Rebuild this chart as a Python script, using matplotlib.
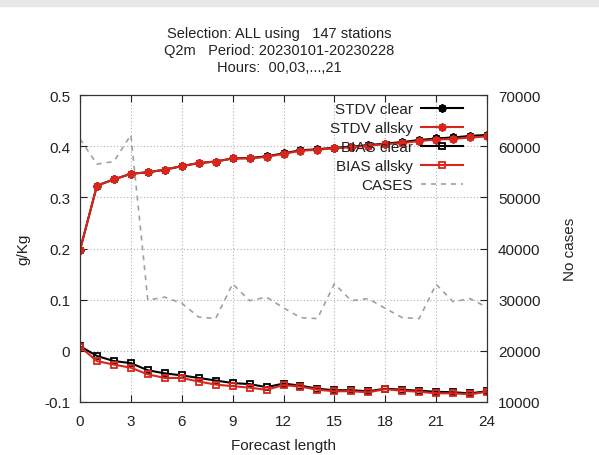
import matplotlib
matplotlib.use("Agg")
import matplotlib.pyplot as plt
from matplotlib.patches import Rectangle

plt.rcParams['font.family'] = ['Liberation Sans', 'DejaVu Sans']

hours = list(range(25))

stdv_clear = [0.197, 0.323, 0.335, 0.346, 0.349, 0.354, 0.361, 0.367, 0.370,
              0.376, 0.377, 0.380, 0.386, 0.392, 0.394, 0.397, 0.399, 0.402,
              0.405, 0.408, 0.412, 0.415, 0.417, 0.420, 0.422]
stdv_allsky = [0.197, 0.323, 0.335, 0.346, 0.349, 0.354, 0.361, 0.367, 0.370,
               0.376, 0.376, 0.379, 0.385, 0.391, 0.393, 0.396, 0.398, 0.401,
               0.404, 0.406, 0.410, 0.413, 0.414, 0.417, 0.419]
bias_clear = [0.009, -0.010, -0.020, -0.024, -0.038, -0.044, -0.048, -0.053,
              -0.058, -0.063, -0.065, -0.071, -0.064, -0.068, -0.074, -0.077,
              -0.077, -0.079, -0.074, -0.076, -0.078, -0.080, -0.081, -0.083,
              -0.079]
bias_allsky = [0.008, -0.020, -0.027, -0.033, -0.046, -0.053, -0.053, -0.060,
               -0.066, -0.069, -0.072, -0.076, -0.067, -0.070, -0.076, -0.079,
               -0.079, -0.081, -0.075, -0.078, -0.080, -0.083, -0.083, -0.085,
               -0.080]
cases = [61400, 56500, 57000, 62200, 29900, 30500, 29300, 26600, 26300, 33100,
         29800, 30500, 28400, 26500, 26300, 33100, 29800, 30200, 28300, 26500,
         26300, 33000, 29600, 30200, 28500]

xticks = list(range(0, 25, 3))
yticks = [-0.1, 0, 0.1, 0.2, 0.3, 0.4, 0.5]
yticklabels = ['-0.1', '0', '0.1', '0.2', '0.3', '0.4', '0.5']
y2ticks = [10000, 20000, 30000, 40000, 50000, 60000, 70000]

red = '#d9261c'
star = (8, 2, 0)

fig = plt.figure(figsize=(5.99, 4.56), dpi=100)
fig.patches.append(Rectangle((0, 1 - 7 / 456), 1, 7 / 456, transform=fig.transFigure,
                             color='#e8e8e8', zorder=0))
ax = fig.add_axes([80 / 599, 53 / 456, 407 / 599, 307 / 456])
ax2 = ax.twinx()

l1, = ax.plot(hours, stdv_clear, color='black', lw=1.5, marker=star, ms=6, mew=1.4)
l2, = ax.plot(hours, stdv_allsky, color=red, lw=1.5, marker=star, ms=6, mew=1.4)
l3, = ax.plot(hours, bias_clear, color='black', lw=1.5, marker='s', ms=5,
              mfc='none', mew=1.3)
l4, = ax.plot(hours, bias_allsky, color=red, lw=1.5, marker='s', ms=5,
              mfc='none', mew=1.3)
l5, = ax2.plot(hours, cases, color='#a0a0a0', lw=1.2, ls=(0, (3, 3)))

ax.set_xlim(0, 24)
ax.set_ylim(-0.1, 0.5)
ax2.set_ylim(10000, 70000)
ax.set_xticks(xticks)
ax.set_yticks(yticks)
ax.set_yticklabels(yticklabels)
ax2.set_yticks(y2ticks)

ax.grid(True, color='#b0b0b0', ls=(0, (1, 2)), lw=0.8)
ax.tick_params(direction='in', length=5, labelsize=11, top=True, pad=7,
               colors='#222222', labelcolor='#222222')
ax.tick_params(axis='x', pad=9)
ax2.tick_params(direction='in', length=5, labelsize=11, pad=8,
                colors='#222222', labelcolor='#222222')
for sp in list(ax.spines.values()) + list(ax2.spines.values()):
    sp.set_color('#333333')

ax.set_xlabel('Forecast length', fontsize=11, color='#222222', labelpad=7)
ax.set_ylabel('g/Kg', fontsize=11, color='#222222', labelpad=10)
ax2.set_ylabel('No cases', fontsize=11, color='#222222', labelpad=16)

ax.text(0.49, 1.147, 'Selection: ALL using   147 stations\n'
        'Q2m   Period: 20230101-20230228\nHours:  00,03,...,21',
        transform=ax.transAxes, ha='center', va='center', fontsize=10.5,
        linespacing=1.25, color='#222222')

ax2.legend([l1, l2, l3, l4, l5],
           ['STDV clear', 'STDV allsky', 'BIAS clear', 'BIAS allsky', 'CASES'],
           loc='upper right', bbox_to_anchor=(0.968, 1.012), markerfirst=False,
           frameon=False, fontsize=11, handlelength=2.8, handletextpad=0.5,
           labelspacing=0.33, borderpad=0.2, labelcolor='#222222')

fig.savefig('out.png', dpi=100)
